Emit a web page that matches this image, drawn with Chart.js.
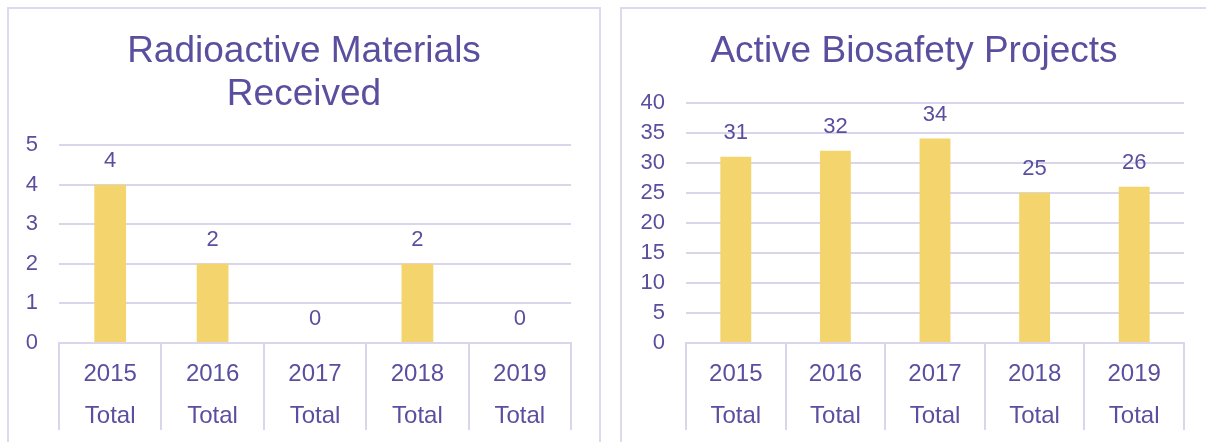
<!DOCTYPE html>
<html>
<head>
<meta charset="utf-8">
<script src="https://cdn.jsdelivr.net/npm/chart.js@4/dist/chart.umd.min.js"></script>
<style>
  html, body { margin: 0; padding: 0; background: #fff; overflow: hidden; }
  body { width: 1206px; height: 442px; position: relative; }
  .panel { position: absolute; top: 7px; height: 450px; border: 2px solid #dcdaee; box-sizing: border-box; }
  #p1 { left: 7px; width: 594px; }
  #p2 { left: 620px; width: 600px; }
  canvas { position: absolute; }
</style>
</head>
<body>
<div class="panel" id="p1"></div>
<div class="panel" id="p2"></div>
<canvas id="radioChart" width="590" height="433" style="left:9px;top:9px;width:590px;height:433px"></canvas>
<canvas id="bioChart" width="584" height="433" style="left:622px;top:9px;width:584px;height:433px"></canvas>
<script>
// chart data
const years = ['2015', '2016', '2017', '2018', '2019'];
const yearLabels = years.map(y => [y, 'Total']);
const radioactiveValues = [4, 2, 0, 2, 0];
const biosafetyValues = [31, 32, 34, 25, 26];

const TEXT = '#5a4f9f';
const GRID = '#d9d6ec';
const BAR = '#f3d46d';
const FONT = "'Liberation Sans', Arial, sans-serif";

// draws the number above each bar
const valueLabels = {
    id: 'valueLabels',
    afterDatasetsDraw(chart) {
        const ctx = chart.ctx;
        const meta = chart.getDatasetMeta(0);
        ctx.save();
        ctx.font = '22px ' + FONT;
        ctx.fillStyle = TEXT;
        ctx.textAlign = 'center';
        ctx.textBaseline = 'middle';
        meta.data.forEach((bar, i) => {
            ctx.fillText(chart.data.datasets[0].data[i], bar.x, bar.y - 24);
        });
        ctx.restore();
    }
};

function makeChart(id, title, values, max, step, yWidth, rightGap) {
    const ctx = document.getElementById(id).getContext('2d');
    return new Chart(ctx, {
        type: 'bar',
        data: {
            labels: yearLabels,
            datasets: [{
                data: values,
                backgroundColor: BAR,
                categoryPercentage: 1,
                barPercentage: 0.31
            }]
        },
        options: {
            responsive: false,
            animation: false,
            layout: { padding: 0 },
            plugins: {
                legend: { display: false },
                tooltip: { enabled: false },
                title: {
                    display: true,
                    text: title,
                    color: TEXT,
                    font: { family: FONT, size: 37, weight: 'normal', lineHeight: 1.15 },
                    padding: { top: 22, bottom: 29 }
                }
            },
            scales: {
                x: {
                    afterFit: s => { s.height = 99; },
                    border: { display: true, color: GRID, width: 2 },
                    grid: {
                        offset: true,
                        drawOnChartArea: false,
                        drawTicks: true,
                        tickLength: 87,
                        color: GRID,
                        lineWidth: 2
                    },
                    ticks: {
                        color: TEXT,
                        padding: -77,
                        font: { family: FONT, size: 24, lineHeight: 1.75 }
                    }
                },
                y: {
                    min: 0,
                    max: max,
                    afterFit: s => { s.width = yWidth; },
                    border: { display: false },
                    grid: { color: GRID, lineWidth: 2, drawTicks: false },
                    ticks: {
                        stepSize: step,
                        color: TEXT,
                        padding: 21,
                        font: { family: FONT, size: 22 }
                    }
                },
                // empty axis on the right, keeps the title centred on the whole canvas
                gap: {
                    position: 'right',
                    afterFit: s => { s.width = rightGap; },
                    border: { display: false },
                    grid: { display: false },
                    ticks: { display: false }
                }
            }
        },
        plugins: [valueLabels]
    });
}

makeChart('radioChart', ['Radioactive Materials', 'Received'], radioactiveValues, 5, 1, 50, 28);
makeChart('bioChart', 'Active Biosafety Projects', biosafetyValues, 40, 5, 64, 22);
</script>
</body>
</html>
